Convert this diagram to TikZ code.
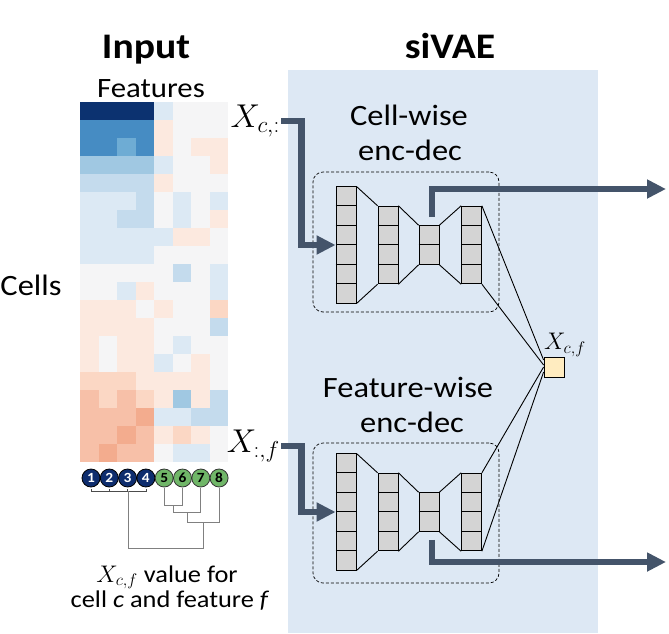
\RequirePackage{fix-cm}
\documentclass[tikz,border=0pt]{standalone}
\usepackage{fontspec}
\setmainfont{Carlito}[FakeStretch=1.1]
\usetikzlibrary{arrows.meta,positioning}

\definecolor{pannello}{RGB}{221,232,244}
\definecolor{ardesia}{RGB}{68,84,106}
\definecolor{grigio}{RGB}{212,212,212}
\definecolor{giallo}{RGB}{255,236,192}
\definecolor{navy}{RGB}{14,45,110}
\definecolor{verde}{RGB}{112,182,104}
% colori della mappa
\definecolor{B5}{RGB}{12,50,112}
\definecolor{B4}{RGB}{70,140,195}
\definecolor{B3}{RGB}{110,172,212}
\definecolor{B2}{RGB}{160,200,226}
\definecolor{B1}{RGB}{196,219,237}
\definecolor{B0}{RGB}{220,233,244}
\definecolor{WW}{RGB}{245,245,246}
\definecolor{O0}{RGB}{252,233,223}
\definecolor{O1}{RGB}{251,215,196}
\definecolor{O2}{RGB}{247,192,168}
\definecolor{O3}{RGB}{243,172,142}

\tikzset{
    titolo/.style={font=\bfseries\fontsize{36}{40}\selectfont, anchor=base},
    etichetta/.style={font=\fontsize{29.5}{34}\selectfont, anchor=base},
    strato/.style={draw, fill=grigio, line width=0.8pt, minimum width=20pt, inner sep=0pt},
    riquadro/.style={draw, dash pattern=on 3pt off 2pt, line width=0.7pt, rounded corners=10pt, minimum width=186pt, minimum height=140pt},
    freccia/.style={draw=ardesia, line width=6.5pt, -{Triangle[length=19pt,width=18pt]}},
    foglia/.style={circle, draw, line width=0.8pt, minimum size=18pt, inner sep=0pt, font=\bfseries\fontsize{14}{14}\selectfont},
    albero/.style={draw=gray, line width=0.8pt},
    linea/.style={draw, line width=0.9pt},
    simbolo/.style={font=\fontsize{33}{36}\selectfont, inner sep=1pt}
}

\begin{document}
\begin{tikzpicture}[x=1pt, y=-1pt]
    \useasboundingbox (0,0) rectangle (669,633);

    % Pannello
    \fill[pannello] (288,70) rectangle (598,633);

    % Titoli
    \node[titolo] (tinput) at (146,58) {Input};
    \node[titolo] (tsivae) at (450,58) {siVAE};
    \node[etichetta, font=\fontsize{28}{32}\selectfont] (tfeat) at (151,97) {Features};
    \node[etichetta] (tcells) at (31,295) {Cells};

    % Mappa di calore
    \foreach \riga [count=\r] in {
            {B5,B5,B5,B5,B0,WW,WW,WW},
            {B4,B4,B4,B4,O0,WW,WW,WW},
            {B4,B4,B3,B4,O0,WW,O0,O0},
            {B2,B2,B2,B2,B0,WW,WW,O0},
            {B1,B1,B1,B1,O0,WW,WW,WW},
            {B0,B0,B0,B1,WW,B0,WW,B0},
            {B0,B0,B1,B1,WW,B0,WW,O0},
            {B0,B0,B0,B0,B0,O0,O0,WW},
            {B0,B0,B0,B0,WW,WW,WW,WW},
            {WW,WW,WW,WW,WW,B1,WW,B0},
            {WW,WW,B0,O0,WW,WW,WW,B0},
            {O0,O0,O0,WW,O0,WW,WW,O1},
            {O0,O0,O0,O0,WW,WW,WW,B1},
            {O0,WW,O0,O0,WW,B0,WW,WW},
            {O0,WW,O0,O0,B0,WW,O0,WW},
            {O1,O1,O1,O0,O0,O0,O0,WW},
            {O2,O1,O2,O1,O0,B2,O0,B1},
            {O2,O2,O2,O3,B0,B0,B1,B1},
            {O2,O2,O3,O2,O0,O1,O0,WW},
            {O2,O3,O2,O2,WW,B0,B0,WW}} {
            \foreach \col [count=\k] in \riga {
                    \fill[fill=\col] ({80+(\k-1)*18.5},{102+(\r-1)*18}) rectangle ++(18.5,18);
                }
        }

    % Foglie
    \foreach \i in {1,...,4} {
            \node[foglia, fill=navy, text=white] (c\i) at ({91+(\i-1)*18.3},478) {\i};
        }
    \foreach \i in {5,...,8} {
            \node[foglia, fill=verde, draw=black!80, text=black] (c\i) at ({91+(\i-1)*18.3},478) {\i};
        }

    % Dendrogramma
    \draw[albero, draw=black!70] (c1 |- 0,489) -- (c1 |- 0,491) -- (c4 |- 0,491) -- (c4 |- 0,489);
    \draw[albero, draw=black!70] (c2 |- 0,489) -- (c2 |- 0,491);
    \draw[albero, draw=black!70] (c3 |- 0,489) -- (c3 |- 0,491);
    \draw[albero] (c5 |- 0,488) -- (c5 |- 0,505) -- (c6 |- 0,505) -- (c6 |- 0,488);
    \draw[albero] (173.5,505) -- (173.5,512) -- (c7 |- 0,512) -- (c7 |- 0,488);
    \draw[albero] (187,512) -- (187,522) -- (c8 |- 0,522) -- (c8 |- 0,488);
    \draw[albero] (128,491) -- (128,548) -- (203,548) -- (203,522);

    % Nota
    \node[etichetta, font=\fontsize{24}{28}\selectfont] (nota1) at (167,582) {$X_{c,f}$ value for};
    \node[etichetta, font=\fontsize{24}{28}\selectfont] (nota2) at (170,607) {cell \textit{c} and feature \textit{f}};

    % Reti encoder-decoder
    \node[etichetta] (lcell) at (409,125) {Cell-wise};
    \node[etichetta] (lcell2) at (410,160) {enc-dec};
    \node[etichetta] (lfeat) at (408,397) {Feature-wise};
    \node[etichetta] (lfeat2) at (412,432) {enc-dec};

    \foreach \nome/\yc/\yb in {sup/245/242, inf/512/513} {
            \node[riquadro] (box\nome) at (406,\yb) {};
            \foreach \k/\x/\n in {1/346/6, 2/388/4, 3/429/2, 4/471.5/4} {
                    \node[strato, minimum height=\n*19.4pt] (\nome\k) at (\x,\yc) {};
                    \pgfmathtruncatemacro\m{\n-1}
                    \foreach \j in {1,...,\m} {
                            \draw[line width=0.8pt] ([yshift=-\j*19.4pt]\nome\k.north west) -- ([yshift=-\j*19.4pt]\nome\k.north east);
                        }
                }
            \draw[linea] (\nome1.north east) -- (\nome2.north west);
            \draw[linea] (\nome1.south east) -- (\nome2.south west);
            \draw[linea] (\nome2.north east) -- (\nome3.north west);
            \draw[linea] (\nome2.south east) -- (\nome3.south west);
            \draw[linea] (\nome3.north east) -- (\nome4.north west);
            \draw[linea] (\nome3.south east) -- (\nome4.south west);
        }

    % Uscita
    \node[draw, fill=giallo, line width=0.8pt, minimum size=20pt, inner sep=0pt] (xcf) at (554,367) {};
    \node[above=-1pt of xcf, xshift=11pt, simbolo, font=\fontsize{24}{26}\selectfont] (lxcf) {$X_{c,f}$};
    \draw[linea] (sup4.north east) -- ([yshift=7pt]xcf.west);
    \draw[linea] (sup4.south east) -- ([yshift=2pt]xcf.west);
    \draw[linea] (inf4.north east) -- (xcf.west);
    \draw[linea] (inf4.south east) -- ([yshift=-5pt]xcf.west);

    % Frecce
    \node[simbolo, anchor=east] (xc) at (281,121) {$X_{c,:}$};
    \node[simbolo, anchor=east] (xf) at (281,446) {$X_{:,f}$};
    \coordinate (outsup) at (666,189);
    \coordinate (outinf) at (666,562);
    \draw[freccia] (xc.east) -| ([xshift=-34pt]sup1.west) -- (sup1.west);
    \draw[freccia] (xf.east) -| ([xshift=-34pt]inf1.west) -- (inf1.west);
    \draw[freccia] ([xshift=3pt,yshift=8pt]sup3.north) |- (outsup);
    \draw[freccia] ([xshift=3pt,yshift=-8pt]inf3.south) |- (outinf);
\end{tikzpicture}
\end{document}
